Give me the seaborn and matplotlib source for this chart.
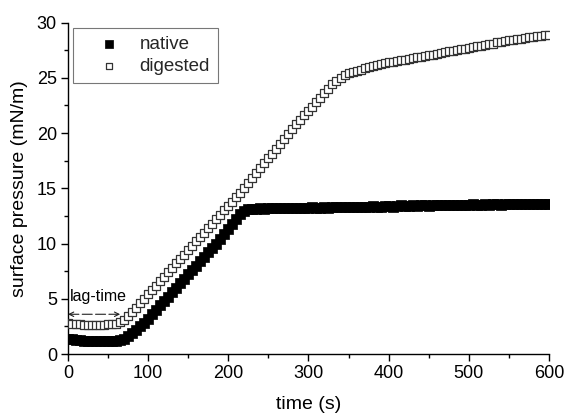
import matplotlib
matplotlib.use("Agg")
import matplotlib.pyplot as plt
import seaborn as sns
import pandas as pd

time_s = list(range(0, 605, 5))

native = [
    1.4, 1.35, 1.3, 1.25, 1.2, 1.2, 1.15, 1.15, 1.15, 1.15,
    1.15, 1.15, 1.2, 1.3, 1.4, 1.6,
    1.9, 2.2, 2.5, 2.8,
    3.2, 3.6, 4.0, 4.4, 4.8, 5.2, 5.6, 6.0, 6.4, 6.8,
    7.2, 7.6, 8.0, 8.4, 8.8, 9.2, 9.6, 10.0, 10.45, 10.9,
    11.35, 11.8, 12.25, 12.65, 12.95, 13.1, 13.15,
    13.15, 13.2, 13.15, 13.2, 13.2, 13.25, 13.2, 13.2, 13.25, 13.2,
    13.25, 13.25, 13.2, 13.25, 13.3, 13.25, 13.25, 13.3, 13.25, 13.3,
    13.3, 13.3, 13.35, 13.3, 13.3, 13.35, 13.3, 13.35, 13.35, 13.4,
    13.35, 13.35, 13.4, 13.4, 13.35, 13.4, 13.45, 13.4, 13.4, 13.45,
    13.4, 13.45, 13.45, 13.4, 13.45, 13.5, 13.45, 13.45, 13.5, 13.45,
    13.5, 13.5, 13.45, 13.5, 13.55, 13.5, 13.5, 13.55, 13.5, 13.55,
    13.55, 13.5, 13.55, 13.6, 13.55, 13.55, 13.6, 13.55, 13.6, 13.6,
    13.55, 13.6, 13.6, 13.6,
]

digested = [
    2.8, 2.75, 2.7, 2.7, 2.65, 2.65, 2.65, 2.65, 2.65, 2.65,
    2.7, 2.7, 2.75, 2.9, 3.1, 3.4, 3.8, 4.2, 4.6, 5.0,
    5.4, 5.8, 6.2, 6.6, 7.0, 7.4, 7.8, 8.2, 8.6, 9.0,
    9.4, 9.8, 10.2, 10.6, 11.0, 11.4, 11.8, 12.2, 12.6, 13.0,
    13.4, 13.8, 14.2, 14.6, 15.0, 15.45, 15.9, 16.35, 16.8, 17.25,
    17.7, 18.15, 18.6, 19.05, 19.5, 19.95, 20.4, 20.8, 21.2, 21.6,
    22.0, 22.4, 22.8, 23.2, 23.6, 24.0, 24.4, 24.75, 25.0, 25.25,
    25.4, 25.55, 25.65, 25.75, 25.85, 25.95, 26.05, 26.15, 26.25, 26.3,
    26.4, 26.45, 26.5, 26.6, 26.65, 26.7, 26.8, 26.85, 26.9, 27.0,
    27.05, 27.1, 27.2, 27.25, 27.3, 27.4, 27.45, 27.5, 27.6, 27.65,
    27.7, 27.8, 27.85, 27.9, 28.0, 28.05, 28.1, 28.2, 28.25, 28.3,
    28.4, 28.45, 28.5, 28.55, 28.6, 28.65, 28.7, 28.75, 28.8, 28.85,
    28.9,
]

series_names = ["native", "digested"]
x_ticks = [0, 100, 200, 300, 400, 500, 600]
y_ticks = [0, 5, 10, 15, 20, 25, 30]

sns.set_theme(style="ticks")
plt.rcParams["font.family"] = ["Liberation Sans", "DejaVu Sans"]

df_n = pd.DataFrame({"time": time_s, "pressure": native})
df_d = pd.DataFrame({"time": time_s, "pressure": digested})

fig = plt.figure(figsize=(5.67, 4.18), dpi=100)
ax = fig.add_axes([0.120, 0.153, 0.848, 0.793])

sns.scatterplot(data=df_n, x="time", y="pressure", marker="s", s=56,
                color="black", edgecolor="black", linewidth=0.5,
                label=series_names[0], ax=ax, zorder=2)
sns.scatterplot(data=df_d, x="time", y="pressure", marker="s", s=40,
                color="white", edgecolor="#333333", linewidth=0.9,
                label=series_names[1], ax=ax, zorder=3)

ax.set_xlim(0, 600)
ax.set_ylim(0, 30)
ax.set_xticks(x_ticks)
ax.set_yticks(y_ticks)
ax.set_xticks([50, 150, 250, 350, 450, 550], minor=True)
ax.set_yticks([2.5, 7.5, 12.5, 17.5, 22.5, 27.5], minor=True)
ax.tick_params(axis="both", which="major", direction="out", length=5,
               width=1, labelsize=13, color="black", labelcolor="black", pad=3)
ax.tick_params(axis="both", which="minor", direction="out", length=3,
               width=1, color="black")
sns.despine(ax=ax)
for sp in ["left", "bottom"]:
    ax.spines[sp].set_color("black")
    ax.spines[sp].set_linewidth(1.0)

ax.set_xlabel("time (s)", fontsize=14, labelpad=10, color="black")
ax.set_ylabel("surface pressure (mN/m)", fontsize=14, labelpad=6, color="black")

ax.annotate("", xy=(0, 3.6), xytext=(65, 3.6),
            arrowprops=dict(arrowstyle="<->", linestyle=(0, (9, 3)),
                            color="#222222", lw=0.8, shrinkA=0, shrinkB=0,
                            mutation_scale=8))
ax.text(2.5, 5.2, "lag-time", fontsize=11.5, va="center", ha="left", color="black")

leg = ax.legend(loc="upper left", bbox_to_anchor=(0.01, 0.985), fontsize=13.5,
                frameon=True, fancybox=False, edgecolor="#555555",
                handlelength=3.0, handletextpad=0.1, borderpad=0.45,
                labelspacing=0.25, markerscale=0.75, borderaxespad=0)
leg.get_frame().set_linewidth(0.8)

fig.savefig("out.png", dpi=100)
